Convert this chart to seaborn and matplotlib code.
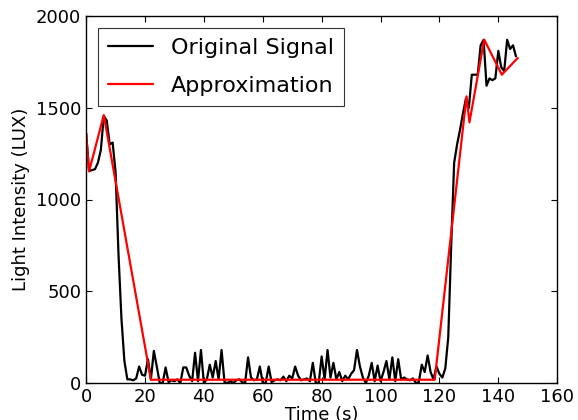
import numpy as np
import pandas as pd
import matplotlib
matplotlib.use('Agg')
import matplotlib.pyplot as plt
import seaborn as sns

# ── Data ──────────────────────────────────────────────────────────────────────
signal_lux = [
    1360, 1155, 1160, 1165, 1200, 1270, 1455, 1430, 1300, 1310,   # 0-9
    1150, 700, 350, 120, 20, 20, 15, 25, 90, 45,                  # 10-19
    40, 130, 20, 175, 90, 0, 0, 85, 5, 15,                        # 20-29
    10, 20, 0, 85, 85, 40, 10, 165, 10, 180,                      # 30-39
    0, 20, 100, 30, 120, 20, 180, 5, 0, 10,                       # 40-49
    0, 15, 20, 5, 0, 140, 30, 15, 20, 90,                         # 50-59
    0, 0, 90, 5, 15, 20, 15, 35, 10, 40,                          # 60-69
    25, 90, 40, 15, 20, 25, 10, 110, 0, 0,                        # 70-79
    145, 20, 180, 30, 110, 20, 60, 10, 40, 20,                    # 80-89
    50, 70, 180, 90, 30, 0, 40, 110, 10, 95,                      # 90-99
    10, 60, 120, 20, 140, 10, 130, 20, 30, 20,                    # 100-109
    15, 25, 0, 5, 100, 60, 150, 60, 20, 90,                       # 110-119
    50, 30, 80, 250, 750, 1200, 1300, 1380, 1470, 1550,           # 120-129
    1500, 1680, 1680, 1680, 1840, 1870, 1620, 1660, 1650, 1660,   # 130-139
    1810, 1720, 1700, 1870, 1820, 1840, 1780,                     # 140-146
]
signal_time = list(range(len(signal_lux)))

approx_time = [0, 1, 6, 22, 118.4, 129.2, 130.2, 135.2, 141.2, 146.6]
approx_lux = [1360, 1153, 1460, 18, 18, 1562, 1420, 1871, 1680, 1771]

x_ticks = [0, 20, 40, 60, 80, 100, 120, 140, 160]
y_ticks = [0, 500, 1000, 1500, 2000]

df_sig = pd.DataFrame({'time': signal_time, 'lux': signal_lux})
df_app = pd.DataFrame({'time': approx_time, 'lux': approx_lux})

# ── Plot ──────────────────────────────────────────────────────────────────────
sns.set_theme(style='white', rc={
    'axes.edgecolor': 'black',
    'axes.linewidth': 1.0,
    'xtick.direction': 'in',
    'ytick.direction': 'in',
    'xtick.top': True,
    'ytick.right': True,
    'xtick.bottom': True,
    'ytick.left': True,
    'xtick.major.size': 4,
    'ytick.major.size': 4,
    'xtick.color': 'black',
    'ytick.color': 'black',
    'text.color': 'black',
    'axes.labelcolor': 'black',
})
plt.rcParams['font.family'] = ['DejaVu Sans']

fig = plt.figure(figsize=(5.78, 4.2), dpi=100)
ax = fig.add_axes([0.149, 0.088, 0.815, 0.874])

sns.lineplot(data=df_sig, x='time', y='lux', color='black', linewidth=1.6,
             sort=False, estimator=None, label='Original Signal', ax=ax)
sns.lineplot(data=df_app, x='time', y='lux', color='red', linewidth=1.6,
             sort=False, estimator=None, label='Approximation', ax=ax)

ax.set_xlim(0, 160)
ax.set_ylim(0, 2000)
ax.set_xticks(x_ticks)
ax.set_yticks(y_ticks)
ax.tick_params(labelsize=13, width=0.8)
ax.set_xlabel('Time (s)', fontsize=13, labelpad=0)
ax.set_ylabel('Light Intensity (LUX)', fontsize=13, labelpad=4)

leg = ax.legend(loc='upper left', fontsize=16, frameon=True, fancybox=False,
                handlelength=2.0, borderaxespad=0.55, borderpad=0.45,
                labelspacing=0.8, handletextpad=0.8)
leg.get_frame().set_edgecolor('black')
leg.get_frame().set_linewidth(0.8)

fig.savefig('out.png', dpi=100)
